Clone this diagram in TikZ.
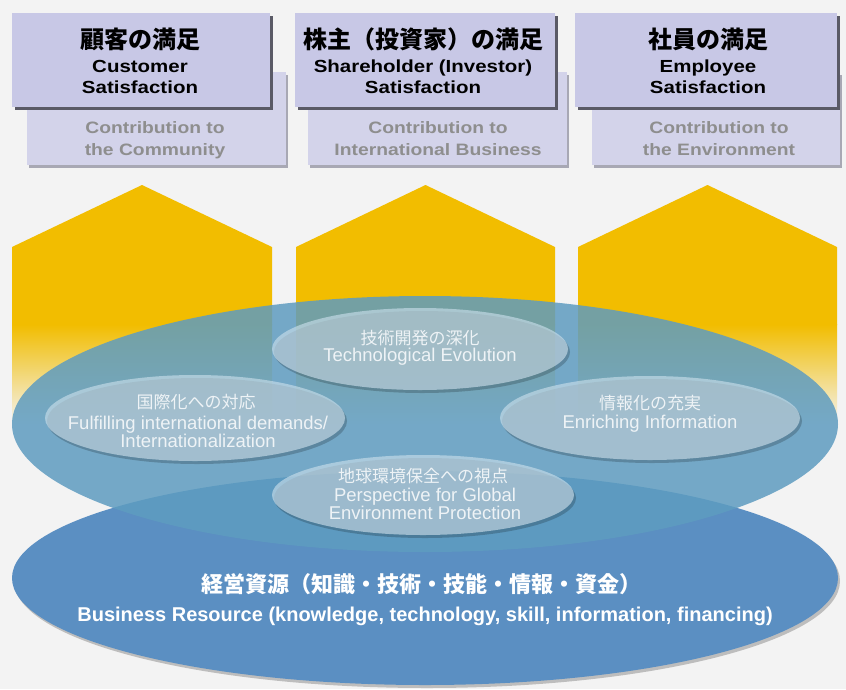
\documentclass[tikz,border=0pt]{standalone}
\usepackage{fontspec}
\setmainfont{Liberation Sans}
\newfontfamily\jpfont{Noto Sans CJK JP}
\newfontfamily\wideen[FakeStretch=1.17]{Liberation Sans}
\usetikzlibrary{shadows}
\definecolor{bgc}{HTML}{F3F3F3}
\definecolor{boxf}{HTML}{C8C8E6}
\definecolor{boxb}{HTML}{D3D3EA}
\definecolor{boxsh}{HTML}{5A5A66}
\definecolor{boxbsh}{HTML}{A8A8B4}
\definecolor{backtxt}{HTML}{8E8E8E}
\definecolor{yel}{HTML}{F2BD00}
\definecolor{midc}{HTML}{5E9CC0}
\definecolor{botc}{HTML}{5B8FC2}
\definecolor{smallc}{HTML}{C8DDE9}
\definecolor{smalltxt}{HTML}{EEF3F6}
\begin{document}
\begin{tikzpicture}[x=1pt,y=-1pt,
  frontbox/.style={fill=boxf, inner sep=0pt, minimum height=94pt,
    drop shadow={shadow xshift=3pt, shadow yshift=-3pt, fill=boxsh, opacity=1}},
  backbox/.style={fill=boxb, inner sep=0pt, minimum height=93pt,
    drop shadow={shadow xshift=2pt, shadow yshift=-3pt, fill=boxbsh, opacity=1}},
  jptitle/.style={font=\jpfont\bfseries\fontsize{24}{26}\selectfont, anchor=base, inner sep=0pt},
  entitle/.style={font=\wideen\bfseries\fontsize{17.5}{20}\selectfont, anchor=base, inner sep=0pt},
  backtext/.style={font=\wideen\bfseries\fontsize{16.5}{22}\selectfont, text=backtxt, anchor=base, inner sep=0pt},
  smallell/.style={fill=smallc, opacity=.65},
  smallsh/.style={fill=black, opacity=.2},
  jpsmall/.style={font=\jpfont\fontsize{17}{19}\selectfont, text=smalltxt, inner sep=0pt},
  ensmall/.style={font=\fontsize{18.5}{18}\selectfont, text=smalltxt, inner sep=0pt, align=center},
  jpbig/.style={font=\jpfont\bfseries\fontsize{22}{24}\selectfont, text=white, anchor=base, inner sep=0pt},
  enbig/.style={font=\bfseries\fontsize{20}{22}\selectfont, text=white, anchor=base, inner sep=0pt}
]
\useasboundingbox (0,0) rectangle (846,689);
\fill[bgc] (0,0) rectangle (846,689);

% back boxes
\node[backbox, minimum width=259pt] (bb1) at (156.5,118.5) {};
\node[backbox, minimum width=259pt] (bb2) at (437.5,118.5) {};
\node[backbox, minimum width=248pt] (bb3) at (716,118.5) {};
\node[backtext] (bt1a) at (155,133) {Contribution to};
\node[backtext] (bt1b) at (155,155) {the Community};
\node[backtext] (bt2a) at (438,133) {Contribution to};
\node[backtext] (bt2b) at (438,155) {International Business};
\node[backtext] (bt3a) at (719,133) {Contribution to};
\node[backtext] (bt3b) at (719,155) {the Environment};

% front boxes
\node[frontbox, minimum width=258pt] (fb1) at (141,60) {};
\node[frontbox, minimum width=260pt] (fb2) at (425,60) {};
\node[frontbox, minimum width=262pt] (fb3) at (706,60) {};
\node[jptitle] (j1) at (140,48) {顧客の満足};
\node[entitle] (e1a) at (140,72) {Customer};
\node[entitle] (e1b) at (140,93) {Satisfaction};
\node[jptitle] (j2) at (423,48) {株主（投資家）の満足};
\node[entitle] (e2a) at (423,72) {Shareholder (Investor)};
\node[entitle] (e2b) at (423,93) {Satisfaction};
\node[jptitle] (j3) at (708,48) {社員の満足};
\node[entitle] (e3a) at (708,72) {Employee};
\node[entitle] (e3b) at (708,93) {Satisfaction};

% houses
\foreach \l/\r in {12/272, 296/555, 578/837}{
  \fill[yel] (\l,325) -- (\l,247) -- ({(\l+\r)/2},185) -- (\r,247) -- (\r,325) -- cycle;
  \shade[top color=yel, bottom color=bgc] (\l,324.5) rectangle (\r,425);
}

% bottom ellipse
\fill[black, opacity=.22] (427,581) ellipse [x radius=413, y radius=107];
\fill[botc] (425,578) ellipse [x radius=413, y radius=107];

% middle ellipse
\fill[midc, opacity=.85] (425,424) ellipse [x radius=413, y radius=128];

% small ellipses
\fill[smallsh] (422,352) ellipse [x radius=148, y radius=41];
\fill[smallell] (420,349) ellipse [x radius=148, y radius=41];
\fill[smallsh] (197,421) ellipse [x radius=150, y radius=43];
\fill[smallell] (195,418) ellipse [x radius=150, y radius=43];
\fill[smallsh] (652,421) ellipse [x radius=150, y radius=42];
\fill[smallell] (650,418) ellipse [x radius=150, y radius=42];
\fill[smallsh] (425,498) ellipse [x radius=151, y radius=40];
\fill[smallell] (423,495) ellipse [x radius=151, y radius=40];

\node[jpsmall] (t1) at (420,338) {技術開発の深化};
\node[ensmall] (t2) at (420,357) {Technological Evolution};
\node[jpsmall] (l1) at (196,402) {国際化への対応};
\node[ensmall] (l2) at (198,432) {Fulfilling international demands/\\Internationalization};
\node[jpsmall] (r1) at (650,403) {情報化の充実};
\node[ensmall] (r2) at (650,424) {Enriching Information};
\node[jpsmall] (g1) at (423,476) {地球環境保全への視点};
\node[ensmall] (g2) at (425,504) {Perspective for Global\\Environment Protection};

\node[jpbig] (b1) at (421,592) {経営資源（知識・技術・技能・情報・資金）};
\node[enbig] (b2) at (425,621) {Business Resource (knowledge, technology, skill, information, financing)};
\end{tikzpicture}
\end{document}
